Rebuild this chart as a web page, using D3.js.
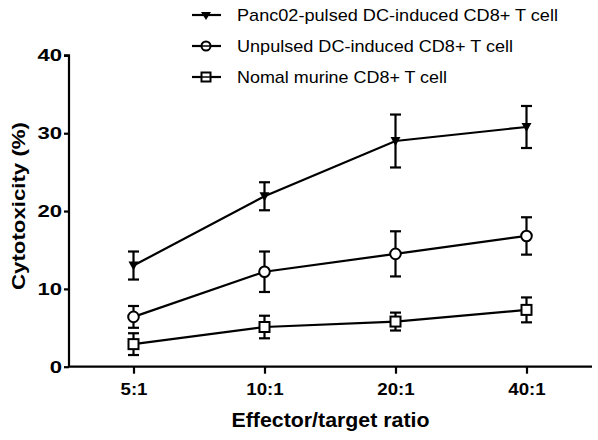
<!DOCTYPE html>
<html><head><meta charset="utf-8">
<script src="https://cdn.jsdelivr.net/npm/d3@7"></script>
<style>body{margin:0;background:#fff}svg{display:block}text{font-family:"Liberation Sans",Arial,sans-serif}</style>
</head><body><svg id="c" width="598" height="440"></svg>
<script>
const categories = ["5:1","10:1","20:1","40:1"];
const seriesNames = ["Panc02-pulsed DC-induced CD8+ T cell","Unpulsed DC-induced CD8+ T cell","Nomal murine CD8+ T cell"];
const panc02Mean = [13.0, 21.9, 29.0, 30.8];
const panc02Err  = [1.8, 1.8, 3.4, 2.7];
const unpulsedMean = [6.4, 12.2, 14.5, 16.8];
const unpulsedErr  = [1.4, 2.6, 2.9, 2.4];
const normalMean = [2.9, 5.1, 5.8, 7.3];
const normalErr  = [1.4, 1.45, 1.15, 1.6];
const yTicks = [0,10,20,30,40];
const markers = ["triangle","circle","square"];

const series = [
  {name: seriesNames[0], mean: panc02Mean, err: panc02Err, marker: markers[0]},
  {name: seriesNames[1], mean: unpulsedMean, err: unpulsedErr, marker: markers[1]},
  {name: seriesNames[2], mean: normalMean, err: normalErr, marker: markers[2]}
];

const svg = d3.select("#c");
const x = d3.scalePoint().domain(categories).range([68, 592]).padding(0.5);
const y = d3.scaleLinear().domain([0, 40]).range([366.7, 55.4]);

function stretch(sel, factor) {
  sel.each(function() {
    const w = this.getComputedTextLength();
    d3.select(this).attr("textLength", w * factor).attr("lengthAdjust", "spacingAndGlyphs");
  });
}

// axes
const yAxis = svg.append("g").attr("transform","translate(69,0)")
  .call(d3.axisLeft(y).tickValues(yTicks).tickSize(5).tickPadding(2));
const xAxis = svg.append("g").attr("transform","translate(0,366.7)")
  .call(d3.axisBottom(x).tickSize(7).tickPadding(9));
[yAxis, xAxis].forEach(g => {
  g.select(".domain").attr("stroke","#000").attr("stroke-width",2.2);
  g.selectAll(".tick line").attr("stroke","#000").attr("stroke-width",2.2);
  g.selectAll("text").attr("fill","#000").attr("font-size",17).attr("font-weight","bold")
    .attr("font-family","'Liberation Sans',Arial,sans-serif");
});
stretch(yAxis.selectAll(".tick text"), 1.3);
stretch(xAxis.selectAll(".tick text"), 1.1);
yAxis.select(".domain").attr("d","M-5,55.4H0V366.7");
xAxis.select(".domain").attr("d","M68,0H592");

svg.append("text").attr("transform","translate(25,206) rotate(-90)")
  .attr("text-anchor","middle").attr("font-size",19).attr("font-weight","bold")
  .attr("textLength",168).attr("lengthAdjust","spacingAndGlyphs")
  .text("Cytotoxicity (%)");
svg.append("text").attr("x",330.5).attr("y",427.3)
  .attr("text-anchor","middle").attr("font-size",20.5).attr("font-weight","bold")
  .attr("textLength",198).attr("lengthAdjust","spacingAndGlyphs")
  .text("Effector/target ratio");

const line = d3.line().x((d,i)=>x(categories[i])).y(d=>y(d));

function drawMarker(g, type, cx, cy) {
  if (type === "triangle") {
    g.append("path").attr("d",`M${cx-5},${cy-4}L${cx+5},${cy-4}L${cx},${cy+5}Z`).attr("fill","#000");
  } else if (type === "circle") {
    g.append("circle").attr("cx",cx).attr("cy",cy).attr("r",5.3)
      .attr("fill","#fff").attr("stroke","#000").attr("stroke-width",2);
  } else {
    g.append("rect").attr("x",cx-5).attr("y",cy-5).attr("width",10).attr("height",10)
      .attr("fill","#fff").attr("stroke","#000").attr("stroke-width",2);
  }
}

series.forEach(s => {
  const g = svg.append("g");
  g.append("path").datum(s.mean).attr("d",line).attr("fill","none")
    .attr("stroke","#000").attr("stroke-width",2.2);
  s.mean.forEach((m,i) => {
    const cx = x(categories[i]);
    const top = y(m + s.err[i]), bot = y(m - s.err[i]);
    g.append("line").attr("x1",cx).attr("x2",cx).attr("y1",top).attr("y2",bot)
      .attr("stroke","#000").attr("stroke-width",2.2);
    [top,bot].forEach(yy => g.append("line").attr("x1",cx-5.5).attr("x2",cx+5.5)
      .attr("y1",yy).attr("y2",yy).attr("stroke","#000").attr("stroke-width",2.2));
  });
  s.mean.forEach((m,i) => drawMarker(g, s.marker, x(categories[i]), y(m)));
});

// legend
const legY = [15, 46, 77];
const legLen = [321, 276, 210];
series.forEach((s,i) => {
  const g = svg.append("g");
  g.append("line").attr("x1",192).attr("x2",221).attr("y1",legY[i]).attr("y2",legY[i])
    .attr("stroke","#000").attr("stroke-width",2.2);
  if (s.marker === "triangle") {
    g.append("path").attr("d",`M201,${legY[i]-3}L211,${legY[i]-3}L206,${legY[i]+5}Z`).attr("fill","#000");
  } else if (s.marker === "circle") {
    g.append("circle").attr("cx",206).attr("cy",legY[i]).attr("r",4.5)
      .attr("fill","#fff").attr("stroke","#000").attr("stroke-width",2);
    g.append("line").attr("x1",201).attr("x2",211).attr("y1",legY[i]).attr("y2",legY[i])
      .attr("stroke","#000").attr("stroke-width",1.5);
  } else {
    g.append("rect").attr("x",201.5).attr("y",legY[i]-4.5).attr("width",9).attr("height",9)
      .attr("fill","#fff").attr("stroke","#000").attr("stroke-width",2);
    g.append("line").attr("x1",201).attr("x2",211).attr("y1",legY[i]).attr("y2",legY[i])
      .attr("stroke","#000").attr("stroke-width",1.5);
  }
  g.append("text").attr("x",237).attr("y",legY[i]).attr("dy","0.35em")
    .attr("font-size",17).attr("fill","#000")
    .attr("textLength",legLen[i]).attr("lengthAdjust","spacingAndGlyphs")
    .text(s.name);
});
</script></body></html>
